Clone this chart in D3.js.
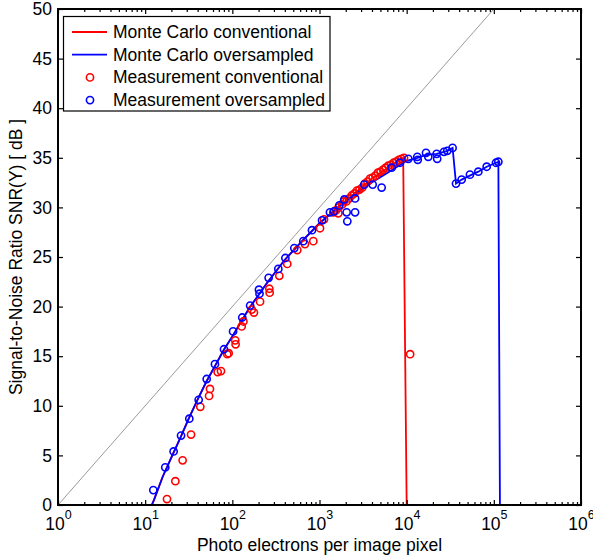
<!DOCTYPE html>
<html><head><meta charset="utf-8">
<script src="https://cdn.jsdelivr.net/npm/d3@7"></script>
<style>
html,body{margin:0;padding:0;background:#fff;}
svg{display:block;font-family:"Liberation Sans",Arial,Helvetica,sans-serif;}
</style></head>
<body>
<svg id="chart" width="593" height="556"></svg>
<script>
// ---- Data ----
const seriesNames = ["Monte Carlo conventional","Monte Carlo oversampled","Measurement conventional","Measurement oversampled"];
const xTickValues = [1,10,100,1000,10000,100000,1000000];
const xTickExponents = ["0","1","2","3","4","5","6"];
const yTickValues = [0,5,10,15,20,25,30,35,40,45,50];

// ideal shot-noise limit line
const idealX = [1, 100000];
const idealY = [0, 50];

// Monte Carlo oversampled
const mcOverX = [1,11.9,12.6,15.8,20,25.1,31.6,39.8,50.1,63.1,79.4,100,158,251,398,631,1000,1585,2512,3981,6310,10000,13300,16700,22000,26800,29200,33650,36810,42800,50120,66400,82800,100000,112700,117500,1000000];
const mcOverY = [0,0,0.5,2.8,4.8,6.7,8.7,10.6,12.4,14.0,15.6,17.0,19.9,22.4,24.7,26.6,28.4,29.9,31.3,32.5,33.6,34.7,35.0,35.3,35.4,35.6,35.7,36.0,32.4,32.8,33.1,33.6,34.1,34.4,34.6,0,0];

// Monte Carlo conventional
const mcConvX = [1,11.9,12.6,15.8,20,25.1,31.6,39.8,50.1,63.1,79.4,100,158,251,398,631,1000,1585,2512,3981,6310,9120,10000,1000000];
const mcConvY = [0,0,0.5,2.8,4.8,6.7,8.7,10.6,12.4,14.0,15.6,17.0,19.9,22.4,24.7,26.6,28.4,29.9,31.4,32.9,34.1,35.0,0,0];

// Measurement conventional
const measConvX = [17.8,22.2,26.9,33.6,42.9,54.1,55.4,67.9,74.1,87.5,90.8,108,109,128,134,167,177,208,266,268,346,427,556,681,849,1014,1127,1441,1545,1644,1660,1820,1905,2040,2190,2340,2510,2690,2880,3090,3310,3550,3800,4070,4370,4680,5010,5370,5750,6170,6610,7080,7590,8130,8710,9330,10960];
const measConvY = [0.6,2.4,4.5,7.1,9.9,11.0,11.7,13.4,13.5,15.2,15.3,16.6,16.2,18.0,18.5,19.7,19.4,20.5,21.8,21.4,23.1,24.3,25.7,26.3,26.6,27.9,28.8,29.5,29.7,29.4,30.0,30.3,30.6,30.6,30.9,31.2,31.4,31.7,31.8,32.0,32.4,32.6,32.9,33.0,33.2,33.5,33.6,33.8,34.0,34.2,34.3,34.5,34.6,34.8,34.9,35.0,15.2];

// Measurement oversampled
const measOverX = [12.4,17.0,21.2,25.8,32.1,41.1,50.8,63.2,80.2,102,130,160,202,205,261,337,406,514,652,820,1069,1318,1466,1688,1927,2048,2085,2560,2560,3266,4074,5164,6730,8375,10450,13240,13400,16670,17700,22080,22400,26800,29240,33650,36810,42760,53210,66370,82790,105900,112700];
const measOverY = [1.5,3.8,5.4,7.0,8.7,10.6,12.7,14.2,15.7,17.5,18.9,20.1,21.7,21.3,22.9,23.8,24.9,25.9,26.6,27.7,28.7,29.5,29.6,30.2,30.8,29.5,28.6,29.5,30.9,32.3,32.3,32.0,34.0,34.5,34.9,35.1,34.8,35.5,35.1,35.4,34.9,35.6,35.7,36.0,32.4,32.8,33.3,33.6,34.1,34.5,34.6];

// ---- Layout ----
const svg = d3.select("#chart");
const L = 58, R = 581, T = 9, B = 505;
const x = d3.scaleLog().domain([1,1e6]).range([L,R]);
const y = d3.scaleLinear().domain([0,50]).range([B,T]);
const RED = "#ff0000", BLUE = "#0000ff";
const fontSize = 17.5;
const markerR = 3.6, markerW = 1.6;

const zip = (xs, ys) => xs.map((v,i)=>[v, ys[i]]);
const line = d3.line().x(d=>x(d[0])).y(d=>y(d[1]));

const minorX = [];
for (let e=0;e<6;e++) for (let k=2;k<10;k++) minorX.push(k*Math.pow(10,e));

// clip
svg.append("defs").append("clipPath").attr("id","clip")
  .append("rect").attr("x",L).attr("y",T).attr("width",R-L).attr("height",B-T);

const plot = svg.append("g").attr("clip-path","url(#clip)");

// ideal line
plot.append("path").datum(zip(idealX,idealY)).attr("d",line)
  .attr("fill","none").attr("stroke","#808080").attr("stroke-width",0.8);

// MC lines
plot.append("path").datum(zip(mcConvX,mcConvY)).attr("d",line)
  .attr("fill","none").attr("stroke",RED).attr("stroke-width",1.8);
plot.append("path").datum(zip(mcOverX,mcOverY)).attr("d",line)
  .attr("fill","none").attr("stroke",BLUE).attr("stroke-width",1.8);

// measurements
plot.append("g").selectAll("circle").data(zip(measConvX,measConvY)).join("circle")
  .attr("cx",d=>x(d[0])).attr("cy",d=>y(d[1])).attr("r",markerR)
  .attr("fill","none").attr("stroke",RED).attr("stroke-width",markerW);
plot.append("g").selectAll("circle").data(zip(measOverX,measOverY)).join("circle")
  .attr("cx",d=>x(d[0])).attr("cy",d=>y(d[1])).attr("r",markerR)
  .attr("fill","none").attr("stroke",BLUE).attr("stroke-width",markerW);

// ---- Axes ----
function styleAxis(g){
  g.selectAll(".domain").remove();
  g.selectAll(".tick line").attr("stroke","#000").attr("stroke-width",1.2);
  g.selectAll("text").attr("font-size",fontSize).attr("fill","#000")
    .attr("font-family",'"Liberation Sans",Arial,Helvetica,sans-serif');
}
// bottom major
const gxB = svg.append("g").attr("transform",`translate(0,${B})`)
  .call(d3.axisBottom(x).tickValues(xTickValues).tickSize(-5).tickSizeOuter(0).tickPadding(12).tickFormat(()=>"") );
styleAxis(gxB);
gxB.selectAll(".tick").each(function(d,i){
  const t = d3.select(this).select("text").attr("dy",null).attr("y",25).attr("text-anchor","middle");
  t.text(null);
  t.append("tspan").text("10");
  t.append("tspan").attr("dy",-11).attr("font-size",12.5).text(xTickExponents[i]);
});
// bottom minor
styleAxis(svg.append("g").attr("transform",`translate(0,${B})`)
  .call(d3.axisBottom(x).tickValues(minorX).tickSize(-3).tickSizeOuter(0).tickFormat(()=>"")));
// top major/minor
styleAxis(svg.append("g").attr("transform",`translate(0,${T})`)
  .call(d3.axisTop(x).tickValues(xTickValues).tickSize(-5).tickSizeOuter(0).tickFormat(()=>"")));
styleAxis(svg.append("g").attr("transform",`translate(0,${T})`)
  .call(d3.axisTop(x).tickValues(minorX).tickSize(-3).tickSizeOuter(0).tickFormat(()=>"")));
// left
const gyL = svg.append("g").attr("transform",`translate(${L},0)`)
  .call(d3.axisLeft(y).tickValues(yTickValues).tickSize(-5).tickSizeOuter(0).tickPadding(6).tickFormat(d3.format("d")));
styleAxis(gyL);
// right
styleAxis(svg.append("g").attr("transform",`translate(${R},0)`)
  .call(d3.axisRight(y).tickValues(yTickValues).tickSize(-5).tickSizeOuter(0).tickFormat(()=>"")));

// frame
svg.append("rect").attr("x",L).attr("y",T).attr("width",R-L).attr("height",B-T)
  .attr("fill","none").attr("stroke","#000").attr("stroke-width",2);

// axis labels
svg.append("text").attr("x",(L+R)/2).attr("y",551).attr("text-anchor","middle")
  .attr("font-size",fontSize).text("Photo electrons per image pixel");
svg.append("text").attr("transform",`translate(22,${(T+B)/2}) rotate(-90)`)
  .attr("text-anchor","middle").attr("font-size",fontSize).text("Signal-to-Noise Ratio SNR(Y) [ dB ]");

// ---- Legend ----
const lg = svg.append("g");
lg.append("rect").attr("x",63.5).attr("y",16.5).attr("width",266.5).attr("height",94.5)
  .attr("fill","#fff").attr("stroke","#000").attr("stroke-width",1.2);
const legendColors = [RED,BLUE,RED,BLUE];
const legendType = ["line","line","marker","marker"];
seriesNames.forEach((name,i)=>{
  const cy = 32 + i*22.7;
  if (legendType[i]==="line") {
    lg.append("line").attr("x1",72).attr("x2",107).attr("y1",cy).attr("y2",cy)
      .attr("stroke",legendColors[i]).attr("stroke-width",1.8);
  } else {
    lg.append("circle").attr("cx",90).attr("cy",cy).attr("r",markerR)
      .attr("fill","none").attr("stroke",legendColors[i]).attr("stroke-width",markerW);
  }
  lg.append("text").attr("x",113).attr("y",cy+6).attr("font-size",fontSize).text(name);
});
</script>
</body></html>
